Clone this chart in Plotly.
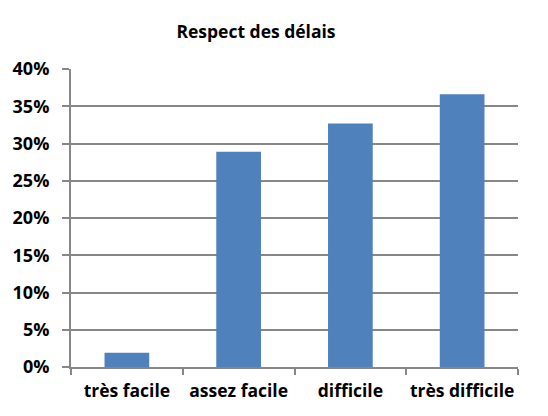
import plotly.graph_objects as go

# Share of respondents per difficulty level
categories = ["très facile", "assez facile", "difficile", "très difficile"]
shares = [0.019, 0.289, 0.327, 0.366]
y_ticks = [0, 0.05, 0.10, 0.15, 0.20, 0.25, 0.30, 0.35, 0.40]
y_tick_labels = ["0%", "5%", "10%", "15%", "20%", "25%", "30%", "35%", "40%"]

grey = "#878787"
font_family = "Open Sans, Liberation Sans, sans-serif"

fig = go.Figure(
    go.Bar(
        x=categories,
        y=shares,
        marker=dict(color="#4F81BD", line=dict(width=0)),
        width=0.4,
    )
)

fig.update_layout(
    width=548,
    height=416,
    margin=dict(l=71, r=30, t=69, b=49),
    paper_bgcolor="white",
    plot_bgcolor="white",
    showlegend=False,
    title=dict(
        text="<b>Respect des délais</b>",
        x=256 / 548,
        xanchor="center",
        y=0.923,
        yanchor="middle",
        font=dict(family=font_family, size=17.5, color="black"),
    ),
    font=dict(family=font_family, color="black"),
)

fig.update_yaxes(
    range=[0, 0.40],
    tickvals=y_ticks,
    ticktext=[f"<b>{t}</b>" for t in y_tick_labels],
    tickfont=dict(size=18, color="black"),
    showgrid=True,
    gridcolor=grey,
    gridwidth=2,
    showline=True,
    linecolor=grey,
    linewidth=2,
    ticks="outside",
    ticklen=7,
    tickwidth=2,
    tickcolor=grey,
    ticklabelstandoff=9,
    zeroline=False,
    fixedrange=True,
)

fig.update_xaxes(
    tickvals=categories,
    ticktext=[f"<b>{c}</b>" for c in categories],
    tickfont=dict(size=17.5, color="black"),
    tickangle=0,
    showline=True,
    linecolor=grey,
    linewidth=2,
    ticks="outside",
    tickson="boundaries",
    ticklen=6,
    tickwidth=2,
    tickcolor=grey,
    ticklabelstandoff=7,
    showgrid=False,
    fixedrange=True,
)

fig.write_html("out.html")
